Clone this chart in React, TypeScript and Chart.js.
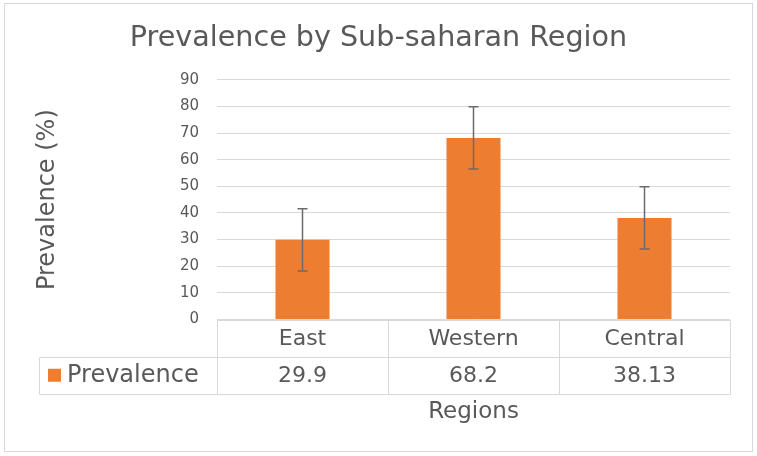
import React, { useEffect, useRef } from "react";
import { Chart, registerables } from "chart.js";

Chart.register(...registerables);

const chartTitle = "Prevalence by Sub-saharan Region";
const yAxisTitle = "Prevalence (%)";
const xAxisTitle = "Regions";
const seriesName = "Prevalence";
const categories = ["East", "Western", "Central"];
const values = [29.9, 68.2, 38.13];
const errors = [11.7, 11.7, 11.7];
const yTicks = { min: 0, max: 90, step: 10 };

const FONT = "'DejaVu Sans', sans-serif";
const TEXT = "#595959";
const GRID = "#d9d9d9";
const BAR = "#ED7D31";

const backgroundAndBorder = {
  id: "bgBorder",
  beforeDraw(chart: any) {
    const { ctx, width, height } = chart;
    ctx.save();
    ctx.fillStyle = "#ffffff";
    ctx.fillRect(0, 0, width, height);
    ctx.strokeStyle = GRID;
    ctx.lineWidth = 1;
    ctx.strokeRect(4.5, 3.5, 748, 448);
    ctx.restore();
  },
};

const errorBars = {
  id: "errorBars",
  afterDatasetsDraw(chart: any) {
    const { ctx, scales } = chart;
    const meta = chart.getDatasetMeta(0);
    ctx.save();
    ctx.strokeStyle = "#6b6b6b";
    ctx.lineWidth = 1.5;
    meta.data.forEach((el: any, i: number) => {
      const x = el.x;
      const yt = scales.y.getPixelForValue(values[i] + errors[i]);
      const yb = scales.y.getPixelForValue(values[i] - errors[i]);
      ctx.beginPath();
      ctx.moveTo(x, yt);
      ctx.lineTo(x, yb);
      ctx.moveTo(x - 5, yt);
      ctx.lineTo(x + 5, yt);
      ctx.moveTo(x - 5, yb);
      ctx.lineTo(x + 5, yb);
      ctx.stroke();
    });
    ctx.restore();
  },
};

const dataTable = {
  id: "dataTable",
  afterDraw(chart: any) {
    const { ctx, chartArea, scales } = chart;
    const xs = scales.x;
    const n = categories.length;
    const band = (chartArea.right - chartArea.left) / n;
    const top = Math.round(chartArea.bottom) + 0.5;
    const rowH = 36.5;
    const r1 = top + rowH;
    const r2 = r1 + rowH;
    const legendLeft = 39.5;
    const L = Math.round(chartArea.left) + 0.5;
    const R = Math.round(chartArea.right) + 0.5;
    ctx.save();
    ctx.strokeStyle = GRID;
    ctx.lineWidth = 1;
    ctx.beginPath();
    ctx.moveTo(L, top);
    ctx.lineTo(R, top);
    ctx.moveTo(legendLeft, Math.round(r1) + 0.5);
    ctx.lineTo(R, Math.round(r1) + 0.5);
    ctx.moveTo(legendLeft, Math.round(r2) + 0.5);
    ctx.lineTo(R, Math.round(r2) + 0.5);
    for (let i = 0; i <= n; i++) {
      const x = Math.round(chartArea.left + i * band) + 0.5;
      ctx.moveTo(x, top);
      ctx.lineTo(x, Math.round(r2) + 0.5);
    }
    ctx.moveTo(legendLeft, Math.round(r1) + 0.5);
    ctx.lineTo(legendLeft, Math.round(r2) + 0.5);
    ctx.stroke();

    ctx.fillStyle = TEXT;
    ctx.font = `22px ${FONT}`;
    ctx.textAlign = "center";
    ctx.textBaseline = "middle";
    categories.forEach((c, i) => {
      const cx = xs.getPixelForValue(i);
      ctx.fillText(c, cx, (top + r1) / 2 + 1);
      ctx.fillText(String(values[i]), cx, (r1 + r2) / 2 + 1);
    });
    ctx.fillStyle = BAR;
    const my = (r1 + r2) / 2;
    ctx.fillRect(48, my - 6.5, 13, 13);
    ctx.fillStyle = TEXT;
    ctx.textAlign = "left";
    ctx.font = `24px ${FONT}`;
    ctx.fillText(seriesName, 67, my + 1);
    ctx.restore();
  },
};

export default function App() {
  const ref = useRef<HTMLCanvasElement | null>(null);
  useEffect(() => {
    if (!ref.current) return;
    const chart = new Chart(ref.current, {
      type: "bar",
      data: {
        labels: categories,
        datasets: [
          {
            label: seriesName,
            data: values,
            backgroundColor: BAR,
            barPercentage: 0.316,
            categoryPercentage: 1,
          },
        ],
      },
      options: {
        animation: false,
        responsive: true,
        maintainAspectRatio: false,
        layout: { padding: { left: 27, right: 27, top: 0, bottom: 0 } },
        plugins: {
          legend: { display: false },
          tooltip: { enabled: false },
          title: {
            display: true,
            text: chartTitle,
            color: TEXT,
            font: { family: FONT, size: 28.6, weight: "normal" },
            padding: { top: 21, bottom: 24.5 },
          },
        },
        scales: {
          x: {
            afterFit(scale: any) {
              scale.height = 136.5;
            },
            ticks: { display: false },
            grid: { display: false },
            border: { display: false },
            title: {
              display: true,
              text: xAxisTitle,
              color: TEXT,
              font: { family: FONT, size: 23 },
              padding: { top: 0, bottom: 30 },
            },
          },
          y: {
            min: yTicks.min,
            max: yTicks.max,
            afterFit(scale: any) {
              scale.width = 190;
            },
            ticks: {
              stepSize: yTicks.step,
              color: TEXT,
              font: { family: FONT, size: 15 },
              padding: 18,
            },
            grid: { color: GRID, lineWidth: 1, drawTicks: false },
            border: { display: false },
            title: {
              display: true,
              text: yAxisTitle,
              color: TEXT,
              font: { family: FONT, size: 24 },
              padding: { top: 6.6, bottom: 0 },
            },
          },
        },
      },
      plugins: [backgroundAndBorder, errorBars, dataTable],
    });
    return () => chart.destroy();
  }, []);
  return (
    <div style={{ position: "fixed", left: 0, top: 0, width: 757, height: 456 }}>
      <canvas ref={ref} />
    </div>
  );
}
